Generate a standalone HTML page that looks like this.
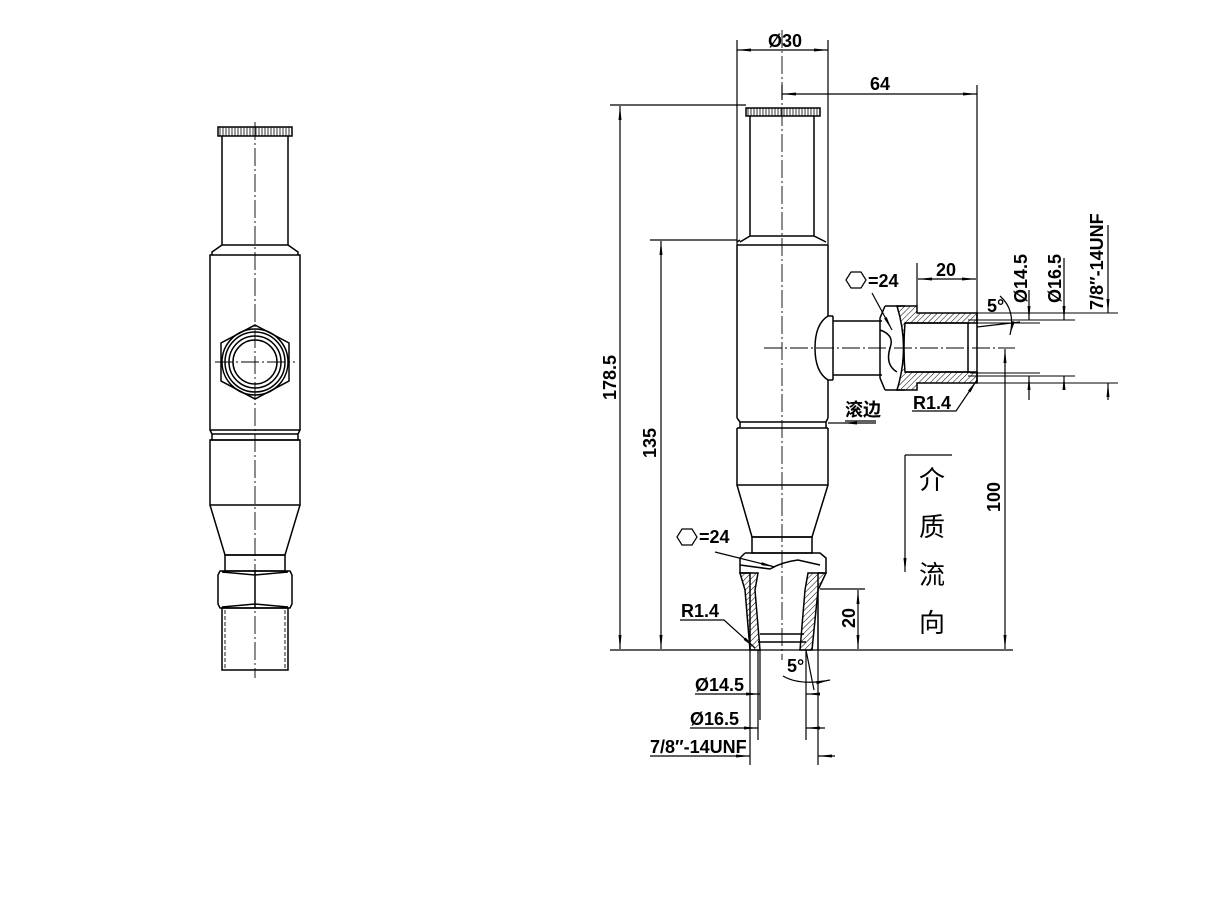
<!DOCTYPE html>
<html><head><meta charset="utf-8"><style>
html,body{margin:0;padding:0;background:#fff;}
svg{display:block;}
text{font-family:"Liberation Sans Narrow","Liberation Sans","Noto Sans CJK SC",sans-serif;fill:#000;font-weight:bold;}
.c{font-family:"Noto Sans CJK SC","WenQuanYi Zen Hei",sans-serif;font-weight:normal;}
</style></head><body>
<svg width="1221" height="911" viewBox="0 0 1221 911" xmlns="http://www.w3.org/2000/svg">
<defs>
<pattern id="h" width="4" height="4" patternUnits="userSpaceOnUse" patternTransform="rotate(45)">
<line x1="0" y1="0" x2="0" y2="4" stroke="#000" stroke-width="1"/>
</pattern>
<pattern id="k" width="3" height="10" patternUnits="userSpaceOnUse">
<line x1="1" y1="0" x2="1" y2="10" stroke="#000" stroke-width="0.8"/>
</pattern>
<marker id="a" markerWidth="14" markerHeight="6" refX="14" refY="3" orient="auto" markerUnits="userSpaceOnUse">
<path d="M0,1.5 L14,3 L0,4.5 z" fill="#000"/></marker>
<marker id="b" markerWidth="14" markerHeight="6" refX="0" refY="3" orient="auto" markerUnits="userSpaceOnUse">
<path d="M14,1.5 L0,3 L14,4.5 z" fill="#000"/></marker>
</defs>
<g fill="none" stroke="#000" stroke-width="1.5">
<!-- LEFT VIEW -->
<rect x="218" y="127" width="74" height="9" fill="url(#k)"/>
<path d="M222,136 V245 M288,136 V245 M222,245 H288 L298,252 V255 M222,245 L212,252 V255"/>
<rect x="210" y="255" width="90" height="175"/>
<path d="M210,430 L212,434 H298 L300,430 M212,434 V440 M298,434 V440 M210,440 H300"/>
<rect x="210" y="440" width="90" height="65"/>
<path d="M210,505 L225,555 H285 L300,505"/>
<rect x="225" y="555" width="60" height="16"/>
<path d="M220,571 H290 L292,575 V604 L290,608 H220 L218,604 V575 Z M255,571 V608 M222,572 L255,575 L288,572 M222,607 L255,604 L288,607"/>
<rect x="222" y="608" width="66" height="62"/>
<path d="M225,610 V668 M285,610 V668" stroke-dasharray="4,2" stroke-width="0.9"/>
<polygon points="255,325 289,343 289,381 255,399 221,381 221,343"/>
<circle cx="255" cy="362" r="33"/><circle cx="255" cy="362" r="30"/><circle cx="255" cy="362" r="26"/><circle cx="255" cy="362" r="22"/>
<path d="M255,122 V678 M215,362 H295" stroke-width="0.9" stroke-dasharray="18,3,2,3"/>

<!-- MAIN VIEW -->
<rect x="746" y="108" width="74" height="8" fill="url(#k)"/>
<path d="M750,116 V236 M814,116 V236 M750,236 H814 L826,242 M750,236 L740,242 M737,245 H828 M737,242 L740,240"/>
<path d="M737,245 V418 M828,245 V316 M828,380 V418"/>
<path d="M737,418 L740,422 H826 L828,418 M740,422 V428 M826,422 V428 M737,428 H828"/>
<path d="M737,428 V485 H828 V428 M737,485 L752,537 H812 L828,485"/>
<rect x="752" y="537" width="60" height="16"/>
<path d="M745,553 H820 L826,558 V573 H818 V650 M745,553 L740,558 V573 H750 V650"/>
<path d="M740,565 L770,569 Q782,562 798,560 L820,565"/>
<path d="M740,573 H758 L755,590 L760,650 H750 L745,590 Z" fill="url(#h)"/>
<path d="M826,573 H808 L805,590 L800,650 H812 L818,590 Z" fill="url(#h)"/>
<path d="M760,634 H804 M758,642 H806"/>
<path d="M828,316 Q815,324 815,348 Q815,372 828,380 M833,316 V380 M828,316 H833 M828,380 H833"/>
<path d="M833,321 H882 M833,375 H882"/>
<path d="M885,306 H905 M885,390 H905 M885,306 L880,318 V378 L885,390 M880,330 Q895,335 890,348 Q885,365 897,372"/>
<path d="M897,306 Q910,348 897,390 H917 V383 H977 V372 H905 Q903,348 905,323 H977 V313 H917 V306 Z" fill="url(#h)"/>
<path d="M905,323 H970 M905,372 H970 M968,323 V373 M977,313 V383"/>
<path d="M968,320 H1075 M968,376 H1075 M977,313 H1118 M977,383 H1118 M970,323 H1040 M970,373 H1040" stroke-width="1.1"/>
<path d="M764,348 H1015 M782,30 V660" stroke-width="0.9" stroke-dasharray="18,3,2,3"/>

<g stroke-width="1.2">
<path d="M737,40 V245 M828,40 V245"/>
<line x1="737" y1="50" x2="828" y2="50" marker-start="url(#b)" marker-end="url(#a)"/>
<path d="M782,85 V100 M977,85 V313"/>
<line x1="782" y1="94" x2="977" y2="94" marker-start="url(#b)" marker-end="url(#a)"/>
<path d="M610,105 H746 M650,240 H737 M610,650 H1013"/>
<line x1="620" y1="106" x2="620" y2="649" marker-start="url(#b)" marker-end="url(#a)"/>
<line x1="661" y1="241" x2="661" y2="649" marker-start="url(#b)" marker-end="url(#a)"/>
<line x1="1005" y1="349" x2="1005" y2="649" marker-start="url(#b)" marker-end="url(#a)"/>
<path d="M917,263 V306"/>
<line x1="918" y1="279" x2="976" y2="279" marker-start="url(#b)" marker-end="url(#a)"/>
<line x1="1029" y1="290" x2="1029" y2="320" marker-end="url(#a)"/>
<line x1="1029" y1="400" x2="1029" y2="376" marker-end="url(#a)"/>
<line x1="1064" y1="258" x2="1064" y2="320" marker-end="url(#a)"/>
<line x1="1064" y1="390" x2="1064" y2="376" marker-end="url(#a)"/>
<line x1="1108" y1="225" x2="1108" y2="313" marker-end="url(#a)"/>
<line x1="1108" y1="400" x2="1108" y2="383" marker-end="url(#a)"/>
<path d="M977,327 L1020,322"/>
<path d="M1000,296 Q1016,310 1010,335" marker-end="url(#a)"/>
<path d="M750,650 V765 M818,650 V765 M760,650 V720 M806,650 V700 M758,650 V740 M806,650 V740 M806,650 L814,690"/>
<line x1="695" y1="694" x2="760" y2="694" marker-end="url(#a)"/>
<line x1="820" y1="694" x2="806" y2="694" marker-end="url(#a)"/>
<line x1="690" y1="728" x2="758" y2="728" marker-end="url(#a)"/>
<line x1="825" y1="728" x2="806" y2="728" marker-end="url(#a)"/>
<line x1="650" y1="756" x2="750" y2="756" marker-end="url(#a)"/>
<line x1="835" y1="756" x2="818" y2="756" marker-end="url(#a)"/>
<path d="M783,676 Q800,686 830,680" marker-end="url(#a)"/>
<path d="M820,589 H865"/>
<line x1="858" y1="590" x2="858" y2="649" marker-start="url(#b)" marker-end="url(#a)"/>
<path d="M715,552 L775,567" marker-end="url(#a)"/>
<path d="M680,620 H724 L755,648" marker-end="url(#a)"/>
<path d="M872,293 L892,330" marker-end="url(#a)"/>
<path d="M912,411 H956 L977,380" marker-end="url(#a)"/>
<path d="M876,423 H843" marker-end="url(#a)"/>
<path d="M843,423 H828"/>
<path d="M952,455 H905"/>
<line x1="905" y1="455" x2="905" y2="572" marker-end="url(#a)"/>
<polygon points="846,280 851,272 861,272 866,280 861,288 851,288"/>
<polygon points="677,537 682,529 692,529 697,537 692,545 682,545"/>
</g>
</g>
<g font-size="18">
<text x="768" y="47">Ø30</text>
<text x="870" y="90">64</text>
<text x="936" y="276">20</text>
<text x="868" y="287">=24</text>
<text x="699" y="543">=24</text>
<text x="913" y="409">R1.4</text>
<text x="681" y="617">R1.4</text>
<text x="987" y="312">5°</text>
<text x="787" y="672">5°</text>
<text x="695" y="691">Ø14.5</text>
<text x="690" y="725">Ø16.5</text>
<text x="650" y="753">7/8″-14UNF</text>
<text transform="translate(616,400) rotate(-90)">178.5</text>
<text transform="translate(656,458) rotate(-90)">135</text>
<text transform="translate(1000,512) rotate(-90)">100</text>
<text transform="translate(855,628) rotate(-90)">20</text>
<text transform="translate(1027,303) rotate(-90)">Ø14.5</text>
<text transform="translate(1061,303) rotate(-90)">Ø16.5</text>
<text transform="translate(1103,310) rotate(-90)">7/8″-14UNF</text>
</g>
<text x="845" y="416" font-size="18" class="c" style="font-weight:bold">滚边</text>
<path d="M845,421 H876" stroke="#000" stroke-width="1.2" fill="none"/>
<g font-size="26" class="c" text-anchor="middle">
<text x="932" y="489" class="c">介</text>
<text x="932" y="536" class="c">质</text>
<text x="932" y="584" class="c">流</text>
<text x="932" y="632" class="c">向</text>
</g>
</svg>
</body></html>
